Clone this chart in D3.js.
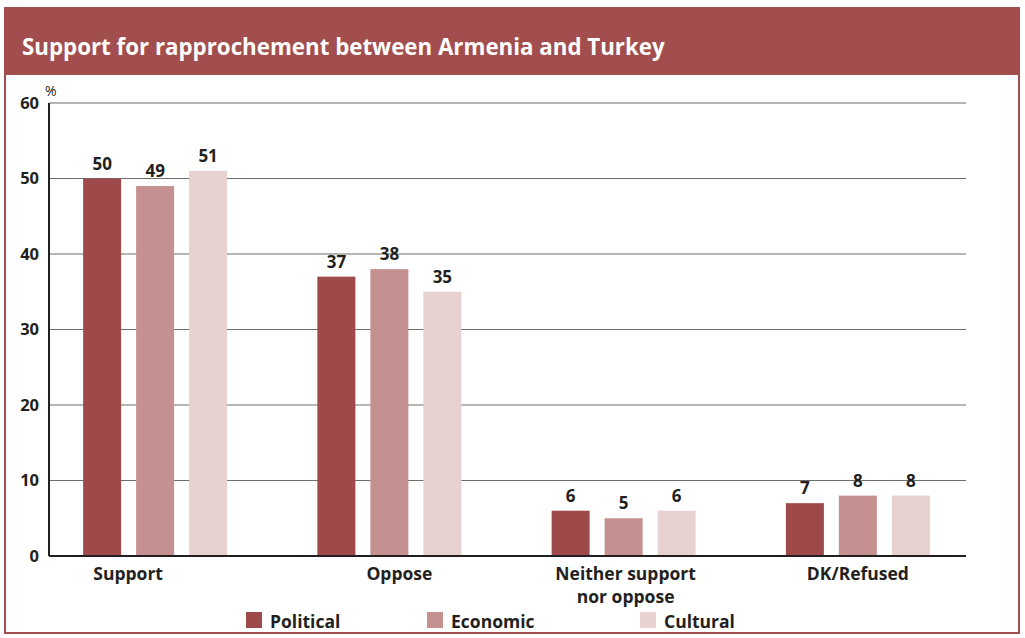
<!DOCTYPE html>
<html>
<head>
<meta charset="utf-8">
<script src="https://cdn.jsdelivr.net/npm/d3@7"></script>
<style>
  html, body { margin: 0; padding: 0; background: #fff; }
  svg { display: block; font-family: "Open Sans", "DejaVu Sans", sans-serif; }
</style>
</head>
<body>
<svg id="chart" width="1025" height="638"></svg>
<script>
// Survey responses (%) by type of rapprochement
const categories = ["Support", "Oppose", "Neither support\nnor oppose", "DK/Refused"];
const seriesNames = ["Political", "Economic", "Cultural"];
const political = [50, 37, 6, 7];
const economic = [49, 38, 5, 8];
const cultural = [51, 35, 6, 8];
const yTicks = [0, 10, 20, 30, 40, 50, 60];

const seriesValues = [political, economic, cultural];
const colors = ["#9e4a4a", "#c49190", "#e7d1d1"];
const frame = "#a24e4e";
const ink = "#231f20";

const svg = d3.select("#chart");

// Card frame and title band
svg.append("rect").attr("x", 5).attr("y", 8).attr("width", 1014).attr("height", 625)
  .attr("fill", "#fff").attr("stroke", frame).attr("stroke-width", 2);
svg.append("rect").attr("x", 4).attr("y", 7).attr("width", 1016).attr("height", 68)
  .attr("fill", frame);
svg.append("text").attr("x", 22).attr("y", 55)
  .attr("fill", "#fff").attr("font-size", 22.3).attr("font-weight", 700)
  .text("Support for rapprochement between Armenia and Turkey");

// Scales
const y = d3.scaleLinear().domain([0, 60]).range([556, 103]);
const x = d3.scaleBand().domain(categories).range([38, 975]).paddingInner(0).paddingOuter(0);
const xs = d3.scaleBand().domain(seriesNames).range([-72, 72]).paddingInner(0.283).paddingOuter(0);

const plotLeft = 49, plotRight = 966;

// Horizontal gridlines
svg.append("g").selectAll("line").data(yTicks.filter(d => d > 0)).join("line")
  .attr("x1", plotLeft).attr("x2", plotRight)
  .attr("y1", d => y(d)).attr("y2", d => y(d))
  .attr("stroke", "#6d6d6d").attr("stroke-width", 1.2);

// Y axis labels
const yAxis = d3.axisLeft(y).tickValues(yTicks).tickSize(0).tickPadding(10);
const gy = svg.append("g").attr("transform", `translate(${plotLeft},0)`).call(yAxis);
gy.select(".domain").remove();
gy.selectAll("text").attr("font-size", 16.5).attr("font-weight", 700).attr("fill", ink)
  .attr("font-family", "'Open Sans', sans-serif");

svg.append("text").attr("x", 45).attr("y", 96).attr("font-size", 14).attr("fill", ink).text("%");

// Bars
const groups = svg.append("g").selectAll("g").data(categories).join("g")
  .attr("transform", d => `translate(${x(d) + x.bandwidth() / 2},0)`);

groups.each(function(cat, ci) {
  const g = d3.select(this);
  const rows = seriesNames.map((s, si) => ({ s, si, v: seriesValues[si][ci] }));
  g.selectAll("rect").data(rows).join("rect")
    .attr("x", d => xs(d.s)).attr("width", xs.bandwidth())
    .attr("y", d => y(d.v)).attr("height", d => y(0) - y(d.v))
    .attr("fill", d => colors[d.si]);
  g.selectAll("text.val").data(rows).join("text").attr("class", "val")
    .attr("x", d => xs(d.s) + xs.bandwidth() / 2).attr("y", d => y(d.v) - 9)
    .attr("text-anchor", "middle").attr("font-size", 17).attr("font-weight", 700)
    .attr("fill", ink).text(d => d.v);
});

// Axis lines
svg.append("line").attr("x1", plotLeft).attr("x2", plotRight).attr("y1", y(0)).attr("y2", y(0))
  .attr("stroke", ink).attr("stroke-width", 2);
svg.append("line").attr("x1", plotLeft).attr("x2", plotLeft).attr("y1", y(60)).attr("y2", y(0))
  .attr("stroke", ink).attr("stroke-width", 2);

// Category labels (slightly nudged from group centres)
const labelNudge = [-27, 10, 2, 0];
const cl = svg.append("g").selectAll("text").data(categories).join("text")
  .attr("y", 580)
  .attr("text-anchor", "middle").attr("font-size", 17.5).attr("font-weight", 700).attr("fill", ink);
cl.each(function(d, i) {
  const cx = x(d) + x.bandwidth() / 2 + labelNudge[i];
  d3.select(this).selectAll("tspan").data(d.split("\n")).join("tspan")
    .attr("x", cx).attr("dy", (l, j) => j === 0 ? 0 : 23).text(l => l);
});

// Legend
const legendX = [246, 427, 640];
const lg = svg.append("g").selectAll("g").data(seriesNames).join("g")
  .attr("transform", (d, i) => `translate(${legendX[i]},612)`);
lg.append("rect").attr("width", 16).attr("height", 16).attr("fill", (d, i) => colors[i]);
lg.append("text").attr("x", 24).attr("y", 15.5).attr("font-size", 17.5).attr("font-weight", 700)
  .attr("fill", ink).text(d => d);
</script>
</body>
</html>
